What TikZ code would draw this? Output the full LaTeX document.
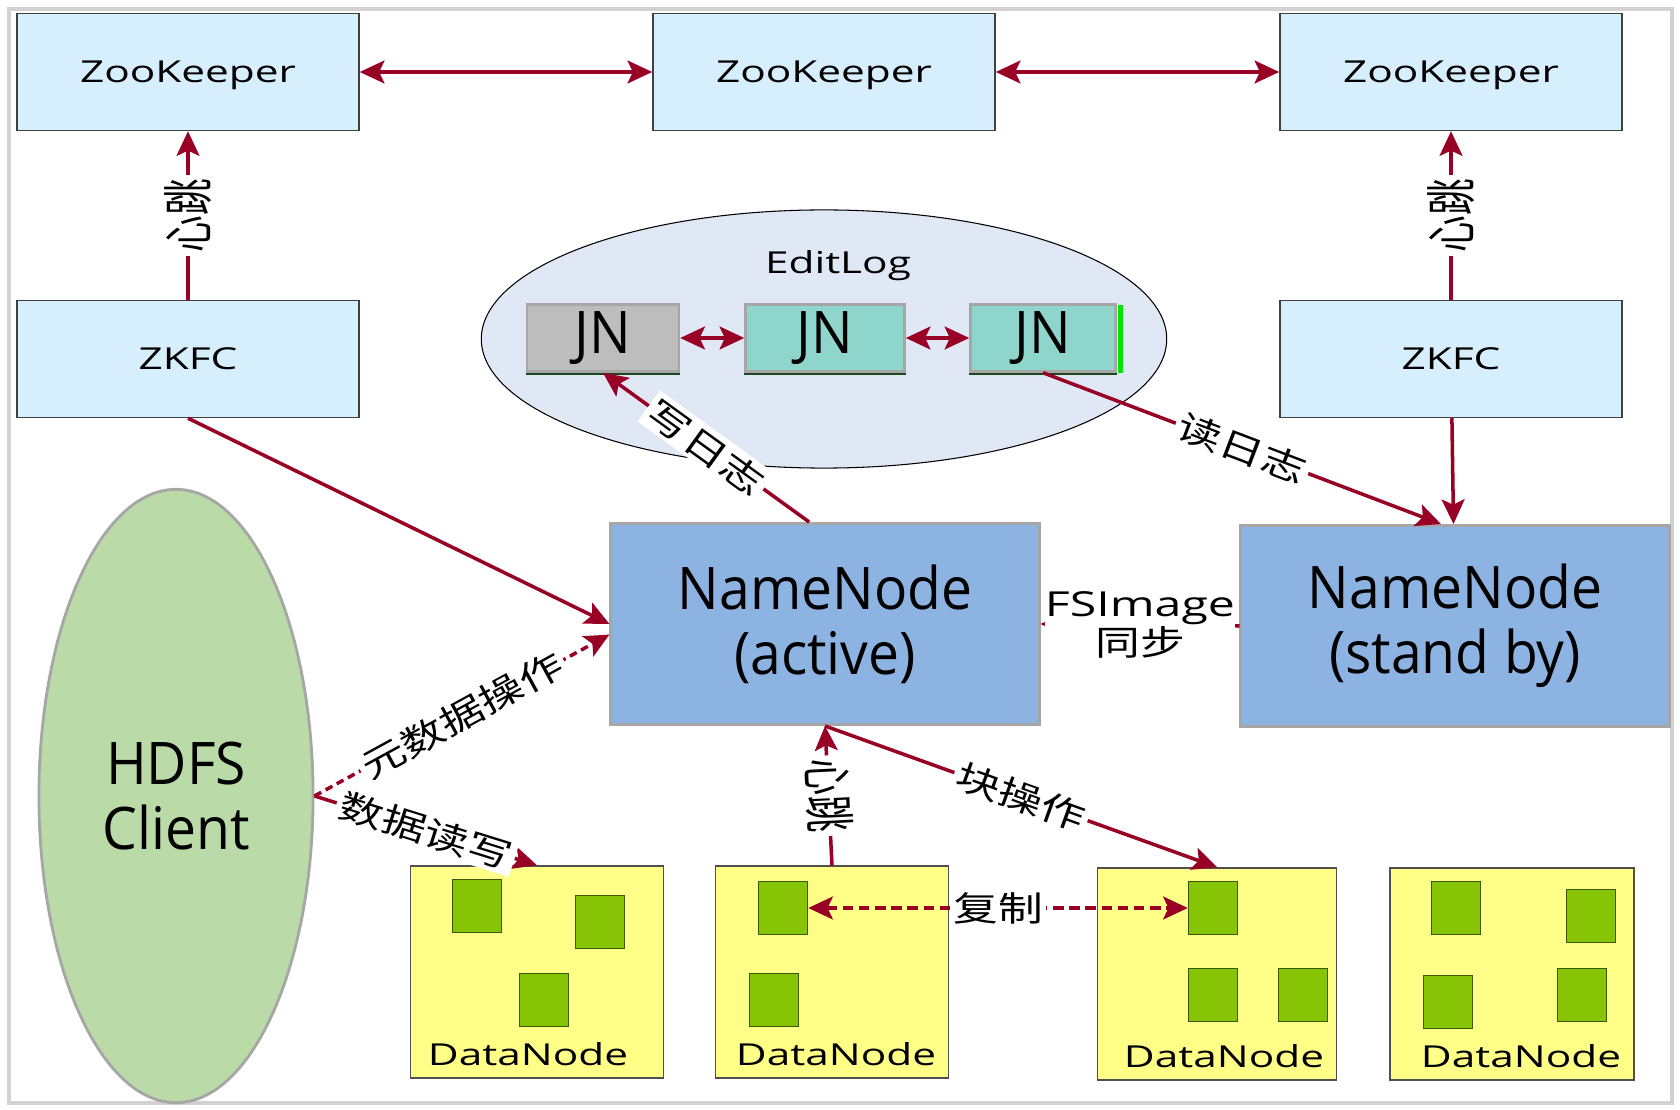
\documentclass[tikz,border=0pt]{standalone}
\usepackage{fontspec}
\usepackage{graphicx}
\setmainfont{Open Sans}
\newfontfamily\widesans[FakeStretch=1.4]{Open Sans}
\newfontfamily\bigsans[FakeStretch=0.94]{Open Sans}
\newfontfamily\cjk{Noto Sans CJK SC}
\newcommand{\wide}[1]{\scalebox{1.3}[1]{\cjk #1}}
\newcommand{\narrow}[1]{\scalebox{0.72}[1]{\cjk #1}}
\usepackage{tikz}
\usetikzlibrary{arrows.meta,positioning,calc,shapes.geometric}
\usepackage{xcolor}

\definecolor{zkblue}{RGB}{215,238,252}
\definecolor{zkborder}{RGB}{64,64,64}
\definecolor{nnblue}{RGB}{141,179,226}
\definecolor{nnborder}{RGB}{166,166,166}
\definecolor{jngray}{RGB}{189,189,189}
\definecolor{jnteal}{RGB}{142,214,203}
\definecolor{jnbar}{RGB}{0,230,0}
\definecolor{jnshadow}{RGB}{30,70,30}
\definecolor{logfill}{RGB}{225,232,245}
\definecolor{clientgreen}{RGB}{186,219,167}
\definecolor{dnyellow}{RGB}{255,255,136}
\definecolor{dnborder}{RGB}{80,80,80}
\definecolor{blkgreen}{RGB}{136,196,6}
\definecolor{blkborder}{RGB}{58,90,0}
\definecolor{arrowred}{RGB}{153,0,38}
\definecolor{framegray}{RGB}{210,210,210}

\tikzstyle{zkbox}=[draw=zkborder, line width=0.4pt, fill=zkblue, minimum width=3.42cm, minimum height=1.17cm, inner sep=0pt, text depth=0pt, font=\widesans\fontsize{8.6}{10}\selectfont]
\tikzstyle{nnbox}=[draw=nnborder, line width=0.8pt, fill=nnblue, minimum width=4.28cm, minimum height=2.01cm, align=center, font=\bigsans\fontsize{16.7}{18.5}\selectfont]
\tikzstyle{jnbox}=[draw=nnborder, line width=0.7pt, minimum height=0.67cm, inner sep=0pt, font=\bigsans\fontsize{16.7}{18.5}\selectfont]
\tikzstyle{dnbox}=[draw=dnborder, line width=0.4pt, fill=dnyellow, minimum height=2.12cm, inner sep=0pt]
\tikzstyle{blk}=[draw=blkborder, line width=0.4pt, fill=blkgreen, minimum width=0.49cm, minimum height=0.53cm, inner sep=0pt]
\tikzstyle{dntext}=[anchor=base, inner sep=0pt, font=\widesans\fontsize{8.6}{10}\selectfont]
\tikzstyle{link}=[draw=arrowred, line width=1pt]
\tikzstyle{lbl}=[fill=white, text=black, inner sep=1pt, font=\fontsize{9.8}{11}\selectfont]
\tikzstyle{vlbl}=[fill=white, text=black, inner sep=1pt, font=\fontsize{14.5}{16}\selectfont]

\begin{document}
\begin{tikzpicture}[x=0.01cm, y=-0.01cm, >={Stealth[length=7pt,width=6.5pt,inset=1.5pt]}]

\useasboundingbox (0,0) rectangle (1680,1110);
\draw[framegray, line width=0.9pt] (9,9) rectangle (1672,1103);

% ZooKeeper
\node[zkbox] (zk1) at (188,72) {ZooKeeper};
\node[zkbox] (zk2) at (824,72) {ZooKeeper};
\node[zkbox] (zk3) at (1451,72) {ZooKeeper};
\node[zkbox] (zkfc1) at (188,359) {ZKFC};
\node[zkbox] (zkfc2) at (1451,359) {ZKFC};

% EditLog
\node[ellipse, draw=black, line width=0.3pt, fill=logfill, minimum width=6.85cm, minimum height=2.58cm] (editlog) at (824,339) {};
\node[font=\widesans\fontsize{8.6}{10}\selectfont] (logtitle) at (838,266) {EditLog};
\node[jnbox, fill=jngray, minimum width=1.52cm] (jn1) at (603,338) {JN};
\node[jnbox, fill=jnteal, minimum width=1.59cm] (jn2) at (825,338) {JN};
\node[jnbox, fill=jnteal, minimum width=1.45cm] (jn3) at (1043,338) {JN};
\fill[jnbar] ([xshift=0.35pt,yshift=-0.5pt]jn3.north east) rectangle ([xshift=1.8pt]jn3.south east);
\foreach \j in {jn1,jn2,jn3}
  \draw[jnshadow, line width=0.4pt] ([yshift=-0.3pt]\j.south west) -- ([yshift=-0.3pt]\j.south east);

% NameNode
\node[nnbox] (nna) at (825,624) {NameNode\\(active)};
\node[nnbox] (nns) at (1455,626) {NameNode\\(stand by)};

% client
\node[ellipse, draw=nnborder, line width=0.8pt, fill=clientgreen, minimum width=2.74cm, minimum height=6.13cm, align=center, font=\bigsans\fontsize{16.7}{18.5}\selectfont] (client) at (176,796) {HDFS\\Client};

% DataNode
\node[dnbox, minimum width=2.53cm] (dn1) at (537,972) {};
\node[dnbox, minimum width=2.33cm] (dn2) at (832,972) {};
\node[dnbox, minimum width=2.39cm] (dn3) at (1217,974) {};
\node[dnbox, minimum width=2.44cm] (dn4) at (1512,974) {};
\node[dntext] (dn1txt) at (528,1065) {DataNode};
\node[dntext] (dn2txt) at (836,1065) {DataNode};
\node[dntext] (dn3txt) at (1224,1067) {DataNode};
\node[dntext] (dn4txt) at (1521,1067) {DataNode};

% blocks
\foreach \n/\x/\y in {b11/477/906, b12/600/922, b13/544/1000,
                      b21/783/908, b22/774/1000,
                      b31/1213/908, b32/1213/995, b33/1303/995,
                      b41/1456/908, b42/1591/916, b43/1448/1002, b44/1582/995}
  \node[blk] (\n) at (\x,\y) {};

% arrows
\draw[link, <->] (zk1) -- (zk2);
\draw[link, <->] (zk2) -- (zk3);
\draw[link, ->] (zkfc1) -- node[vlbl, rotate=90] (hb1) {\narrow{心跳}} (zk1);
\draw[link, ->] (zkfc2) -- node[vlbl, rotate=90] (hb2) {\narrow{心跳}} (zk3);
\draw[link, ->] (zkfc2) -- (nns);
\draw[link, ->] (zkfc1.south) -- (nna.west);

\draw[link, <->] (jn1) -- (jn2);
\draw[link, <->] (jn2) -- (jn3);
\draw[link, ->] ([xshift=-4.5pt]nna.north) -- node[lbl, sloped] (wlog) {\wide{写日志}} (jn1.south);
\draw[link, ->] (jn3.south) -- node[lbl, sloped] (rlog) {\wide{读日志}} ([xshift=-4pt]nns.north);

\draw[link, ->] (nns.west) -- node[lbl, align=center, inner xsep=0pt] (sync) {{\widesans FSImage}\\\wide{同步}} (nna.east);

\draw[link, ->, dash pattern=on 2.2pt off 1.4pt] (client.east) -- node[lbl, sloped] (meta) {\wide{元数据操作}} ([yshift=-3pt]nna.west);
\draw[link, ->] (client.east) -- node[lbl, sloped] (rw) {\wide{数据读写}} (dn1.north);

\draw[link, <-] (nna.south) -- node[vlbl, sloped] (hb3) {\narrow{心跳}} (dn2.north);
\draw[link, ->] (nna.south) -- node[lbl, sloped] (blockop) {\wide{块操作}} (dn3.north);
\draw[link, <->, dash pattern=on 3pt off 1.6pt] (b21.east) -- node[lbl] (copy) {\wide{复制}} (b31.west);

\end{tikzpicture}
\end{document}
